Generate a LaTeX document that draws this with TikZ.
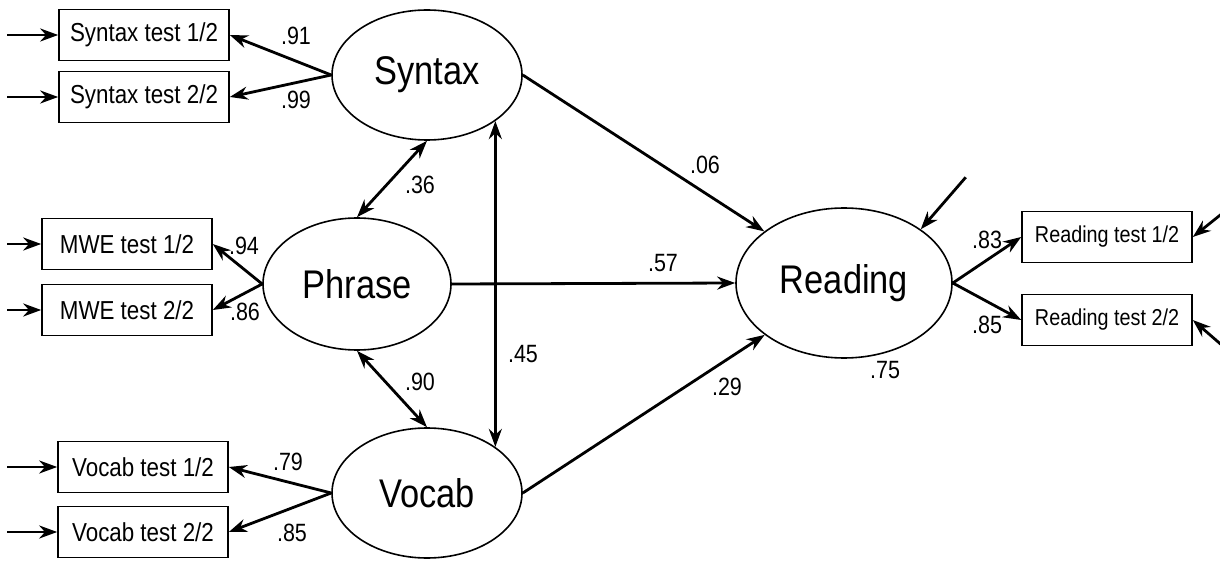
\documentclass[tikz,border=0pt]{standalone}
\usepackage{fontspec}
\setmainfont{Liberation Sans}[FakeStretch=0.86]
\usetikzlibrary{shapes.geometric,arrows.meta}
\tikzset{>={Stealth[length=18pt,width=13pt]}}
\tikzset{latent/.style={draw,ellipse,line width=1.6pt,inner sep=0pt,font=\fontsize{40}{40}\selectfont},
  indicator/.style={draw,rectangle,line width=1.6pt,inner sep=0pt,minimum width=170pt,minimum height=51pt,font=\fontsize{26}{26}\selectfont},
  coef/.style={font=\fontsize{25}{25}\selectfont},
  load/.style={->,line width=2.8pt}}

\begin{document}
\begin{tikzpicture}[x=1pt,y=-1pt]
      \useasboundingbox (0,0) rectangle (1220,561);
      % latent variables
      \node [latent,minimum width=190pt,minimum height=130pt] (Syntax) at (427,75) {Syntax};
      \node [latent,minimum width=188pt,minimum height=132pt] (Phrase) at (357,284) {Phrase};
      \node [latent,minimum width=190pt,minimum height=130pt] (Vocab) at (427,493) {Vocab};
      \node [latent,minimum width=216pt,minimum height=150pt] (Reading) at (844,283) {Reading};
      % observed tests
      \node [indicator] (synA) at (144,35) {Syntax test 1/2};
      \node [indicator] (synB) at (144,97) {Syntax test 2/2};
      \node [indicator] (mweA) at (127,244) {MWE test 1/2};
      \node [indicator] (mweB) at (127,310) {MWE test 2/2};
      \node [indicator] (vocA) at (143,467) {Vocab test 1/2};
      \node [indicator] (vocB) at (143,532) {Vocab test 2/2};
      \node [indicator,font=\fontsize{23}{23}\selectfont] (readA) at (1107,237) {Reading test 1/2};
      \node [indicator,font=\fontsize{23}{23}\selectfont] (readB) at (1107,320) {Reading test 2/2};
      % loadings
      \draw [load] (Syntax.west) -- (synA.east);
      \draw [load] (Syntax.west) -- (synB.east);
      \draw [load] (Phrase.west) -- (mweA.east);
      \draw [load] (Phrase.west) -- (mweB.east);
      \draw [load] (Vocab.west) -- (vocA.east);
      \draw [load] (Vocab.west) -- (vocB.east);
      \draw [load] (Reading.east) -- (readA.west);
      \draw [load] (Reading.east) -- (readB.west);
      % error terms
      \draw [load,<-] (synA.west) -- ++(-51,0);
      \draw [load,<-] (synB.west) -- ++(-51,0);
      \draw [load,<-] (mweA.west) -- ++(-34,0);
      \draw [load,<-] (mweB.west) -- ++(-34,0);
      \draw [load,<-] (vocA.west) -- ++(-50,0);
      \draw [load,<-] (vocB.west) -- ++(-50,0);
      \draw [load,<-] (readA.east) -- ++(30,-24);
      \draw [load,<-] (readB.east) -- ++(30,26);
      \draw [load,<-] (Reading.35) -- ++(45,-52);
      % structural paths
      \draw [load] (Syntax.east) -- (Reading);
      \draw [load] (Phrase.east) -- (Reading.west);
      \draw [load] (Vocab.east) -- (Reading);
      \draw [load,<->] (Syntax.south) -- (Phrase.north);
      \draw [load,<->] (Phrase.south) -- (Vocab.north);
      \draw [load,<->] (Syntax.-34) -- (Vocab.34);
      % coefficients
      \node [coef] at (296,36) {.91};
      \node [coef] at (296,100) {.99};
      \node [coef] at (244,246) {.94};
      \node [coef] at (245,312) {.86};
      \node [coef] at (288,462) {.79};
      \node [coef] at (292,533) {.85};
      \node [coef] at (420,185) {.36};
      \node [coef] at (420,382) {.90};
      \node [coef] at (523,354) {.45};
      \node [coef] at (705,165) {.06};
      \node [coef] at (663,263) {.57};
      \node [coef] at (727,387) {.29};
      \node [coef] at (987,240) {.83};
      \node [coef] at (987,325) {.85};
      \node [coef] at (885,370) {.75};
    \end{tikzpicture}
\end{document}
